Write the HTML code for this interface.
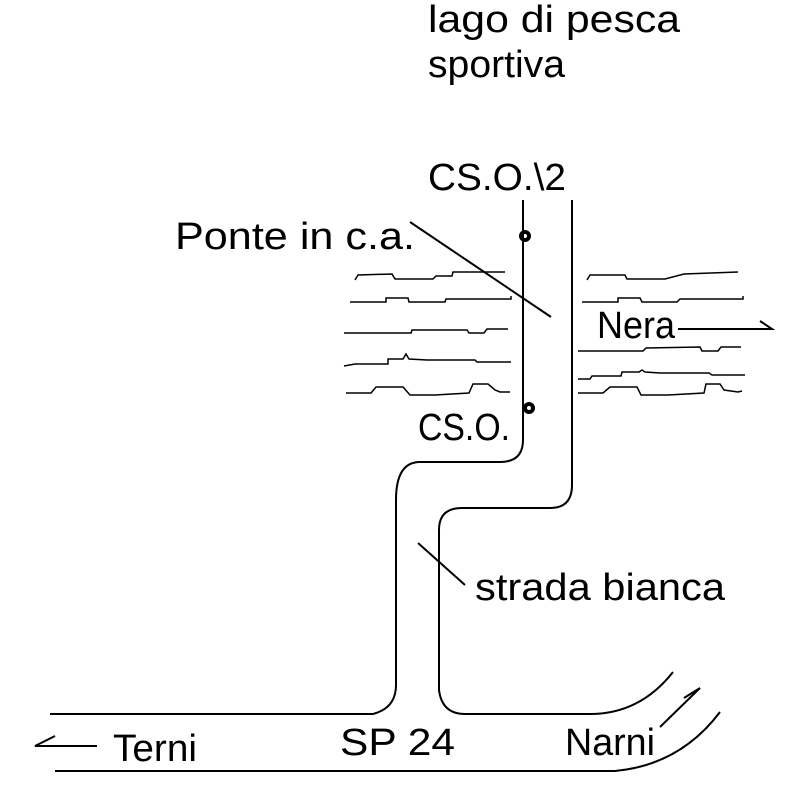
<!DOCTYPE html>
<html><head><meta charset="utf-8"><style>html,body{margin:0;padding:0;background:#fff}svg{display:block}</style></head>
<body>
<svg width="802" height="799" viewBox="0 0 802 799" xmlns="http://www.w3.org/2000/svg">
<g font-family="Liberation Sans, sans-serif" font-size="38" fill="#000">
<text x="428" y="32" textLength="252" lengthAdjust="spacingAndGlyphs">lago di pesca</text>
<text x="428" y="77" textLength="137" lengthAdjust="spacingAndGlyphs">sportiva</text>
<text x="428" y="190" textLength="138" lengthAdjust="spacingAndGlyphs">CS.O.\2</text>
<text x="175" y="249" textLength="240" lengthAdjust="spacingAndGlyphs">Ponte in c.a.</text>
<text x="597" y="338" textLength="78" lengthAdjust="spacingAndGlyphs">Nera</text>
<text x="418" y="440" textLength="92" lengthAdjust="spacingAndGlyphs">CS.O.</text>
<text x="475" y="600" textLength="250" lengthAdjust="spacingAndGlyphs">strada bianca</text>
<text x="113" y="761" textLength="84" lengthAdjust="spacingAndGlyphs">Terni</text>
<text x="340" y="755" textLength="115" lengthAdjust="spacingAndGlyphs">SP 24</text>
<text x="565" y="755" textLength="90" lengthAdjust="spacingAndGlyphs">Narni</text>
</g>
<g fill="none" stroke="#000" stroke-width="2">
<path d="M50 714 H373 Q396 708 396 685 V500 Q396 462 420 462 H500 Q523 462 523 440 V200"/>
<path d="M572 200 V485 Q572 508 550 508 H462 Q439 508 439 530 V690 Q442 714 465 714 H590 Q640 714 673 672"/>
<path d="M55 771 H615 Q680 765 720 712"/>
<path d="M410 222 L551 317"/>
<path d="M678 329 H772 L760 321"/>
<path d="M97 746 H35 L55 736"/>
<path d="M660 727 L700 688 L684 698"/>
<path d="M418 543 L465 585"/>
</g>
<g fill="none" stroke="#000" stroke-width="1.5">
<polyline points="355,280 358,275 392,274 395,279 433,279 436,276 452,276 453,272 505,272"/>
<polyline points="350,302 386,302 386,298 408,298 409,302 445,302 446,299 511,299 511,296"/>
<polyline points="344,333 411,333 412,330 467,330 469,333 484,333 487,329 508,329"/>
<polyline points="344,366 355,364 388,364 388,359 403,359 406,354 409,359 427,360 475,360 477,362 511,362"/>
<polyline points="346,393 371,393 376,387 403,387 410,395 435,395 469,393 473,384 488,384 495,390 500,392 510,392"/>
<polyline points="587,280 590,275 625,275 627,279 665,279 684,274 738,272"/>
<polyline points="582,302 618,302 618,298 640,298 642,302 677,302 680,299 743,299 743,296"/>
<polyline points="578,351 643,351 646,348 700,347 702,351 718,351 721,347 741,347"/>
<polyline points="578,379 590,379 592,376 621,376 622,372 639,372 642,370 645,372 660,373 709,373 712,375 745,375"/>
<polyline points="578,393 603,393 610,387 637,387 641,395 668,395 704,393 706,384 720,384 724,390 738,392 742,391"/>
</g>
<circle cx="525" cy="236" r="4" fill="none" stroke="#000" stroke-width="4"/>
<circle cx="529" cy="408" r="4" fill="none" stroke="#000" stroke-width="4"/>
</svg>
</body></html>
